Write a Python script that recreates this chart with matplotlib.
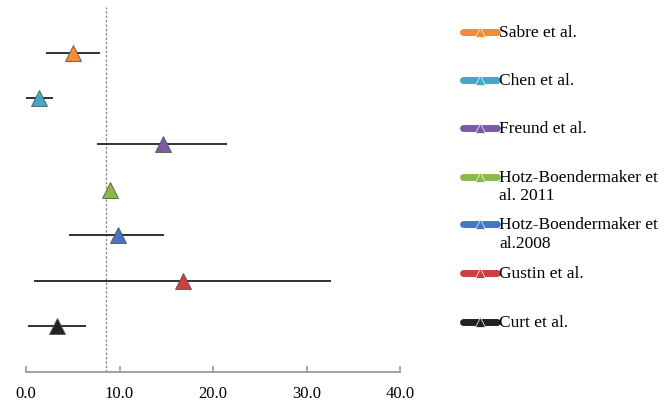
import numpy as np
import matplotlib.pyplot as plt

# studies top to bottom
studies = ['Sabre et al.', 'Chen et al.', 'Freund et al.',
           'Hotz-Boendermaker et\nal. 2011', 'Hotz-Boendermaker et\nal.2008',
           'Gustin et al.', 'Curt et al.']
means = [5.05, 1.4, 14.6, 9.0, 9.8, 16.8, 3.3]
lower = [2.1, 0.0, 7.6, np.nan, 4.6, 0.9, 0.2]
upper = [7.9, 2.9, 21.5, np.nan, 14.8, 32.6, 6.4]
rows = [7, 6, 5, 4, 3, 2, 1]
colors = ['#F68B33', '#3FA9C6', '#7B5BA6', '#8DB849', '#4676C1', '#C9403F', '#222222']
pooled = 8.6
x_ticks = [0, 10, 20, 30, 40]


def main():
    fig = plt.figure(figsize=(6.72, 4.05), dpi=100)
    ax = fig.add_axes([26 / 672, 1 - 372 / 405, 374 / 672, 365 / 405])

    ax.axvline(pooled, color='#888888', lw=0.9, ls=(0, (2, 1.5)), zorder=1)

    for m, lo, hi, r, c in zip(means, lower, upper, rows, colors):
        if not np.isnan(lo):
            ax.hlines(r, lo, hi, color='#222222', lw=1.3, zorder=2)
        ax.plot(m, r, marker='^', ms=11.5, color=c, mec='#555555', mew=0.6,
                ls='none', zorder=3)

    ax.set_xlim(0, 40)
    ax.set_ylim(0, 8)
    ax.set_xticks(x_ticks)
    ax.set_xticklabels([f'{t:.1f}' for t in x_ticks], family='Liberation Serif', fontsize=12)
    ax.set_yticks([])
    for s in ['left', 'right', 'top']:
        ax.spines[s].set_visible(False)
    ax.spines['bottom'].set_color('#999999')
    ax.spines['bottom'].set_linewidth(1.3)
    ax.tick_params(axis='x', direction='in', length=4, width=1.2, color='#999999', pad=10)

    # manual legend on the right
    lg = fig.add_axes([0, 0, 1, 1])
    lg.set_xlim(0, 672)
    lg.set_ylim(405, 0)
    lg.axis('off')
    ys = [31.7, 80, 128, 176.7, 224.3, 273.3, 321.7]
    for name, c, y in zip(studies, colors, ys):
        lg.plot([463, 497], [y, y], color=c, lw=5, solid_capstyle='round')
        lg.plot(480, y, marker='^', ms=7, color=c, mec='white', mew=0.5)
        lg.text(499, y - 7, name, va='top', ha='left', family='Liberation Serif',
                fontsize=12.5, linespacing=1.2)

    fig.savefig('out.png', dpi=100)


if __name__ == "__main__":
    main()
